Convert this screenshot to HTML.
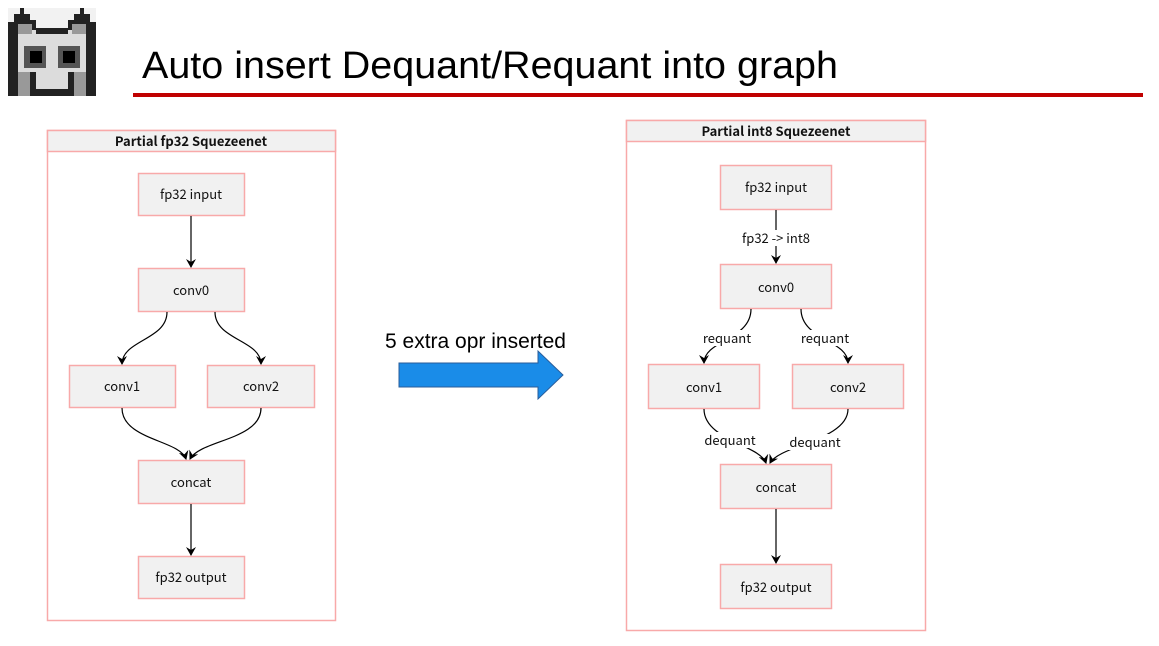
<!DOCTYPE html>
<html><head><meta charset="utf-8"><style>
html,body{margin:0;padding:0;background:#fff;}
svg{display:block;}
text{font-family:"Liberation Sans",sans-serif;}
.n{font-family:"Noto Sans CJK SC","Liberation Sans",sans-serif;font-size:13px;fill:#111;}
.t{font-family:"Noto Sans CJK SC","Liberation Sans",sans-serif;font-size:13px;font-weight:bold;fill:#111;}
.box{fill:#f1f1f1;stroke:#f8a9a9;stroke-width:1.5;}
.e{fill:none;stroke:#000;stroke-width:1.2;}
</style></head><body>
<svg width="1159" height="646" viewBox="0 0 1159 646" xmlns="http://www.w3.org/2000/svg">
<defs><marker id="a" markerWidth="10" markerHeight="10" refX="8" refY="5" orient="auto" markerUnits="userSpaceOnUse"><path d="M0,0 L9,5 L0,10 L3,5 z" fill="#000"/></marker></defs>
<!-- logo -->
<g shape-rendering="crispEdges">
<rect x="8" y="8" width="88" height="88" fill="#f2f2f2"/>
<rect x="8" y="30" width="88" height="66" fill="#dcdcdc"/>
<rect x="8" y="22" width="10" height="74" fill="#222"/>
<rect x="86" y="22" width="10" height="74" fill="#222"/>
<rect x="14" y="14" width="16" height="10" fill="#222"/>
<rect x="74" y="14" width="16" height="10" fill="#222"/>
<rect x="20" y="8" width="4" height="6" fill="#222"/>
<rect x="80" y="8" width="4" height="6" fill="#222"/>
<rect x="28" y="20" width="8" height="10" fill="#222"/>
<rect x="68" y="20" width="8" height="10" fill="#222"/>
<rect x="36" y="28" width="32" height="6" fill="#222"/>
<rect x="18" y="24" width="14" height="10" fill="#999"/>
<rect x="72" y="24" width="14" height="10" fill="#999"/>
<rect x="24" y="46" width="22" height="22" fill="#555"/>
<rect x="58" y="46" width="22" height="22" fill="#555"/>
<rect x="30" y="51" width="12" height="12" fill="#000"/>
<rect x="63" y="51" width="12" height="12" fill="#000"/>
<rect x="18" y="72" width="14" height="24" fill="#999"/>
<rect x="72" y="72" width="14" height="24" fill="#999"/>
<rect x="30" y="72" width="6" height="24" fill="#222"/>
<rect x="68" y="72" width="6" height="24" fill="#222"/>
<rect x="36" y="89" width="32" height="7" fill="#222"/>
</g>
<text x="142" y="78" font-size="38" fill="#000" textLength="696" lengthAdjust="spacingAndGlyphs">Auto insert Dequant/Requant into graph</text>
<rect x="133" y="93" width="1010" height="4" fill="#c00000"/>
<!-- left panel -->
<rect x="47.5" y="130.5" width="288" height="490" fill="#fff" stroke="#f8a9a9" stroke-width="1.5"/>
<rect x="47.5" y="130.5" width="288" height="21" class="box"/>
<text x="191" y="146" class="t" text-anchor="middle">Partial fp32 Squezeenet</text>
<rect x="138.5" y="173.5" width="106" height="42" class="box"/><text x="191" y="199" class="n" text-anchor="middle">fp32 input</text>
<rect x="138.5" y="268.5" width="106" height="43" class="box"/><text x="191" y="295" class="n" text-anchor="middle">conv0</text>
<rect x="69.5" y="365.5" width="106" height="42" class="box"/><text x="122" y="391" class="n" text-anchor="middle">conv1</text>
<rect x="207.5" y="365.5" width="107" height="42" class="box"/><text x="261" y="391" class="n" text-anchor="middle">conv2</text>
<rect x="138.5" y="460.5" width="106" height="43" class="box"/><text x="191" y="487" class="n" text-anchor="middle">concat</text>
<rect x="138.5" y="556.5" width="106" height="42" class="box"/><text x="191" y="582" class="n" text-anchor="middle">fp32 output</text>
<path class="e" d="M191,216 L191,267" marker-end="url(#a)"/>
<path class="e" d="M167,312 C167,340 122,340 122,364" marker-end="url(#a)"/>
<path class="e" d="M215,312 C215,340 261,340 261,364" marker-end="url(#a)"/>
<path class="e" d="M122,408 C122,440 180,440 186,459" marker-end="url(#a)"/>
<path class="e" d="M261,408 C261,440 200,440 190,459" marker-end="url(#a)"/>
<path class="e" d="M191,504 L191,555" marker-end="url(#a)"/>
<!-- arrow -->
<text x="385" y="348" font-size="21" fill="#000">5 extra opr inserted</text>
<path d="M399,363 L538,363 L538,351 L563,375 L538,399 L538,387 L399,387 z" fill="#1a8ce8" stroke="#2a5d9a" stroke-width="1"/>
<!-- right panel -->
<rect x="626.5" y="120.5" width="299" height="510" fill="#fff" stroke="#f8a9a9" stroke-width="1.5"/>
<rect x="626.5" y="120.5" width="299" height="21" class="box"/>
<text x="776" y="136" class="t" text-anchor="middle">Partial int8 Squezeenet</text>
<rect x="720.5" y="165.5" width="111" height="44" class="box"/><text x="776" y="192" class="n" text-anchor="middle">fp32 input</text>
<rect x="720.5" y="264.5" width="111" height="44" class="box"/><text x="776" y="292" class="n" text-anchor="middle">conv0</text>
<rect x="648.5" y="364.5" width="111" height="44" class="box"/><text x="704" y="392" class="n" text-anchor="middle">conv1</text>
<rect x="792.5" y="364.5" width="111" height="44" class="box"/><text x="848" y="392" class="n" text-anchor="middle">conv2</text>
<rect x="720.5" y="464.5" width="111" height="44" class="box"/><text x="776" y="492" class="n" text-anchor="middle">concat</text>
<rect x="720.5" y="564.5" width="111" height="44" class="box"/><text x="776" y="592" class="n" text-anchor="middle">fp32 output</text>
<path class="e" d="M776,210 L776,263" marker-end="url(#a)"/>
<rect x="740" y="230" width="72" height="16" fill="#fff"/>
<text x="776" y="243" class="n" text-anchor="middle">fp32 -&gt; int8</text>
<path class="e" d="M751,309 C751,340 704,340 704,363" marker-end="url(#a)"/>
<path class="e" d="M801,309 C801,340 848,340 848,363" marker-end="url(#a)"/>
<path class="e" d="M704,409 C704,440 760,445 766,463" marker-end="url(#a)"/>
<path class="e" d="M848,409 C848,440 780,445 770,463" marker-end="url(#a)"/>
<path class="e" d="M776,509 L776,563" marker-end="url(#a)"/>
<rect x="700" y="330" width="54" height="16" fill="#fff"/><text x="727" y="343" class="n" text-anchor="middle">requant</text>
<rect x="798" y="330" width="54" height="16" fill="#fff"/><text x="825" y="343" class="n" text-anchor="middle">requant</text>
<rect x="702" y="432" width="56" height="16" fill="#fff"/><text x="730" y="445" class="n" text-anchor="middle">dequant</text>
<rect x="787" y="434" width="56" height="16" fill="#fff"/><text x="815" y="447" class="n" text-anchor="middle">dequant</text>
</svg>
</body></html>
